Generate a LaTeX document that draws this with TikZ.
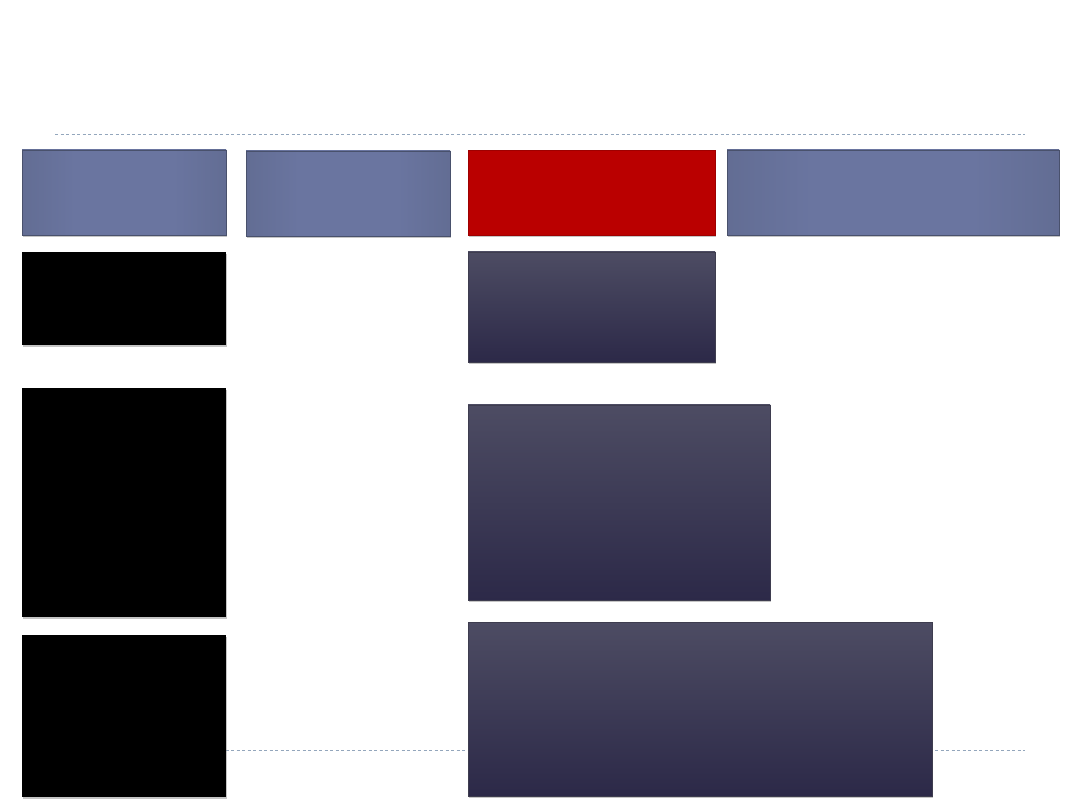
\documentclass[tikz,border=0pt]{standalone}
\usetikzlibrary{shadows}
\definecolor{bluemid}{HTML}{6A75A0}
\definecolor{blueedge}{HTML}{5B6587}
\definecolor{redbox}{HTML}{BA0000}
\definecolor{darktop}{HTML}{4D4C63}
\definecolor{darkbot}{HTML}{2C2948}
\definecolor{dashcol}{HTML}{93A6BC}
\pgfdeclarehorizontalshading{bluegrad}{100bp}{
  color(0bp)=(blueedge); color(25bp)=(blueedge!50!bluemid); color(38bp)=(bluemid);
  color(62bp)=(bluemid); color(75bp)=(blueedge!50!bluemid); color(100bp)=(blueedge)}
\tikzset{
  base/.style={inner sep=0pt, outer sep=0pt, anchor=north west,
    drop shadow={opacity=0.45, shadow xshift=0.6pt, shadow yshift=-2.2pt}},
  bluebox/.style={base, shading=bluegrad, draw=blueedge!80!black, line width=0.3pt},
  redbx/.style={base, fill=redbox, draw=redbox!85!black, line width=0.3pt},
  blackbox/.style={base, fill=black},
  darkbox/.style={base, top color=darktop, bottom color=darkbot, draw=darktop!80!black, line width=0.3pt},
  rule/.style={draw=dashcol, dash pattern=on 3pt off 2.5pt, line width=0.8pt}
}
\begin{document}
\begin{tikzpicture}[x=1pt,y=-1pt]
\useasboundingbox[fill=white] (0,0) rectangle (1080,810);
\coordinate (t1) at (55,134);
\coordinate (t2) at (1025,134);
\coordinate (b1) at (55,750);
\coordinate (b2) at (1025,750);
\draw[rule] (t1) -- (t2);
\draw[rule] (b1) -- (b2);
% top row
\node[bluebox, minimum width=204pt, minimum height=85pt] (h1) at (22,150) {};
\node[bluebox, minimum width=204pt, minimum height=85pt] (h2) at (246,151) {};
\node[redbx, minimum width=247pt, minimum height=85pt] (h3) at (468,150) {};
\node[bluebox, minimum width=332pt, minimum height=85pt] (h4) at (727,150) {};
% left column
\node[blackbox, minimum width=204pt, minimum height=93pt] (k1) at (22,252) {};
\node[blackbox, minimum width=204pt, minimum height=229pt] (k2) at (22,388) {};
\node[blackbox, minimum width=204pt, minimum height=162pt] (k3) at (22,635) {};
% right column
\node[darkbox, minimum width=247pt, minimum height=110pt] (d1) at (468,252) {};
\node[darkbox, minimum width=302pt, minimum height=195pt] (d2) at (468,405) {};
\node[darkbox, minimum width=464pt, minimum height=174pt] (d3) at (468,622) {};
\end{tikzpicture}
\end{document}
